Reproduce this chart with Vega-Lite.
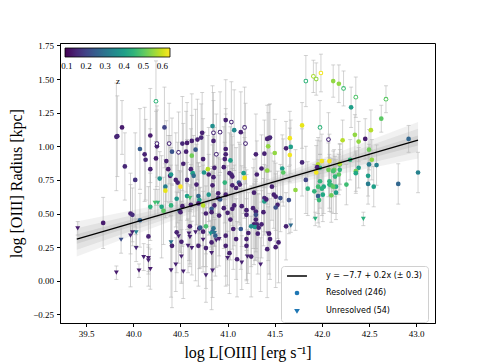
{
  "$schema": "https://vega.github.io/schema/vega-lite/v6.json",
  "width": 375,
  "height": 280,
  "autosize": {"type": "none"},
  "padding": {"left": 60, "top": 43, "right": 49, "bottom": 40},
  "background": "white",
  "config": {
    "view": {"stroke": "black", "strokeWidth": 1},
    "axis": {"grid": false, "domainColor": "black", "tickColor": "black", "tickSize": 3.5, "labelColor": "black", "labelFont": "Liberation Serif", "labelFontSize": 9, "titleFont": "Liberation Serif", "titleFontSize": 16, "titleFontWeight": "normal", "titleColor": "black", "labelOverlap": false, "labelFlush": false, "labelBound": false}
  },
  "datasets": {
    "band": [
      {"x": 39.4, "lo1": 0.18, "hi1": 0.44, "lo2": 0.23, "hi2": 0.39, "lo3": 0.275, "hi3": 0.345},
      {"x": 41.2, "lo1": 0.655, "hi1": 0.695, "lo2": 0.663, "hi2": 0.687, "lo3": 0.668, "hi3": 0.682},
      {"x": 43.02, "lo1": 0.91, "hi1": 1.18, "lo2": 0.96, "hi2": 1.13, "lo3": 1.005, "hi3": 1.08}
    ],
    "fit": [{"x": 39.4, "y": 0.31}, {"x": 43.02, "y": 1.045}],
    "pts": [
      {"x":39.41,"y":0.39,"e":0.05,"z":0.13,"s":"U"},
      {"x":39.68,"y":0.43,"e":0.19,"z":0.13,"s":"R"},
      {"x":39.82,"y":1.07,"e":0.4,"z":0.14,"s":"R"},
      {"x":39.83,"y":1.075,"e":0.3,"z":0.15,"s":"R"},
      {"x":39.88,"y":1.14,"e":0.2,"z":0.13,"s":"R"},
      {"x":39.91,"y":0.85,"e":0.25,"z":0.15,"s":"R"},
      {"x":40.02,"y":0.75,"e":0.35,"z":0.17,"s":"R"},
      {"x":39.97,"y":0.5,"e":0.3,"z":0.14,"s":"R"},
      {"x":39.99,"y":0.49,"e":0.2,"z":0.16,"s":"R"},
      {"x":40.07,"y":0.98,"e":0.3,"z":0.25,"s":"R"},
      {"x":40.07,"y":0.45,"e":0.2,"z":0.26,"s":"R"},
      {"x":40.03,"y":0.36,"e":0.1,"z":0.33,"s":"U"},
      {"x":39.99,"y":0.36,"e":0.1,"z":0.14,"s":"U"},
      {"x":39.97,"y":0.335,"e":0.38,"z":0.15,"s":"U"},
      {"x":39.87,"y":0.305,"e":0.1,"z":0.22,"s":"U"},
      {"x":39.82,"y":0.06,"e":0.05,"z":0.13,"s":"U"},
      {"x":40.06,"y":0.075,"e":0.05,"z":0.13,"s":"U"},
      {"x":40.03,"y":0.243,"e":0.1,"z":0.15,"s":"U"},
      {"x":40.11,"y":0.176,"e":0.1,"z":0.14,"s":"U"},
      {"x":40.16,"y":0.168,"e":0.1,"z":0.13,"s":"U"},
      {"x":40.16,"y":0.15,"e":0.1,"z":0.14,"s":"U"},
      {"x":40.18,"y":0.087,"e":0.15,"z":0.13,"s":"U"},
      {"x":40.16,"y":0.33,"e":0.37,"z":0.14,"s":"R"},
      {"x":40.12,"y":0.94,"e":0.35,"z":0.14,"s":"R"},
      {"x":40.13,"y":0.9,"e":0.3,"z":0.15,"s":"R"},
      {"x":40.18,"y":1.08,"e":0.35,"z":0.13,"s":"R"},
      {"x":40.24,"y":1.335,"e":0.3,"z":0.45,"s":"R","o":1},
      {"x":40.25,"y":1.02,"e":0.25,"z":0.15,"s":"R","o":1},
      {"x":40.25,"y":1.0,"e":0.3,"z":0.14,"s":"R"},
      {"x":40.24,"y":0.91,"e":0.35,"z":0.13,"s":"R"},
      {"x":40.18,"y":0.83,"e":0.3,"z":0.14,"s":"R"},
      {"x":40.33,"y":1.14,"e":0.3,"z":0.2,"s":"R"},
      {"x":40.38,"y":1.02,"e":0.3,"z":0.15,"s":"R","o":1},
      {"x":40.35,"y":0.89,"e":0.3,"z":0.14,"s":"R"},
      {"x":40.37,"y":0.83,"e":0.25,"z":0.13,"s":"R"},
      {"x":40.41,"y":0.96,"e":0.25,"z":0.23,"s":"R"},
      {"x":40.28,"y":0.76,"e":0.2,"z":0.37,"s":"R"},
      {"x":40.34,"y":0.7,"e":0.2,"z":0.32,"s":"R"},
      {"x":40.34,"y":0.67,"e":0.2,"z":0.62,"s":"R"},
      {"x":40.23,"y":0.58,"e":0.1,"z":0.48,"s":"U"},
      {"x":40.26,"y":0.58,"e":0.1,"z":0.46,"s":"U"},
      {"x":40.3,"y":0.55,"e":0.38,"z":0.42,"s":"R"},
      {"x":40.32,"y":0.52,"e":0.25,"z":0.5,"s":"R"},
      {"x":40.18,"y":0.55,"e":0.25,"z":0.44,"s":"R"},
      {"x":40.39,"y":0.78,"e":0.3,"z":0.14,"s":"R"},
      {"x":40.4,"y":0.56,"e":0.3,"z":0.45,"s":"R"},
      {"x":40.46,"y":0.61,"e":0.25,"z":0.38,"s":"R"},
      {"x":40.49,"y":0.52,"e":0.3,"z":0.27,"s":"R"},
      {"x":40.45,"y":0.75,"e":0.35,"z":0.14,"s":"R"},
      {"x":40.4,"y":0.79,"e":0.2,"z":0.38,"s":"R"},
      {"x":40.48,"y":0.955,"e":0.3,"z":0.15,"s":"R","o":1},
      {"x":40.52,"y":1.02,"e":0.35,"z":0.15,"s":"R"},
      {"x":40.57,"y":1.025,"e":0.3,"z":0.13,"s":"R"},
      {"x":40.56,"y":0.96,"e":0.3,"z":0.14,"s":"R"},
      {"x":40.5,"y":0.7,"e":0.25,"z":0.64,"s":"R"},
      {"x":40.47,"y":0.73,"e":0.3,"z":0.14,"s":"R"},
      {"x":40.53,"y":0.87,"e":0.3,"z":0.14,"s":"R"},
      {"x":40.57,"y":0.75,"e":0.3,"z":0.15,"s":"R"},
      {"x":40.6,"y":0.615,"e":0.1,"z":0.48,"s":"U"},
      {"x":40.57,"y":0.63,"e":0.25,"z":0.4,"s":"R"},
      {"x":40.62,"y":0.93,"e":0.3,"z":0.52,"s":"R"},
      {"x":40.61,"y":0.83,"e":0.3,"z":0.14,"s":"R"},
      {"x":40.63,"y":0.8,"e":0.25,"z":0.4,"s":"R"},
      {"x":40.64,"y":0.78,"e":0.3,"z":0.28,"s":"R"},
      {"x":40.62,"y":1.04,"e":0.35,"z":0.14,"s":"R"},
      {"x":40.66,"y":0.975,"e":0.3,"z":0.24,"s":"R"},
      {"x":40.67,"y":0.715,"e":0.3,"z":0.14,"s":"R"},
      {"x":40.69,"y":0.63,"e":0.25,"z":0.27,"s":"R"},
      {"x":40.7,"y":0.6,"e":0.25,"z":0.4,"s":"R"},
      {"x":40.74,"y":0.56,"e":0.3,"z":0.58,"s":"R"},
      {"x":40.74,"y":0.905,"e":0.3,"z":0.14,"s":"R"},
      {"x":40.68,"y":1.05,"e":0.3,"z":0.14,"s":"R"},
      {"x":40.73,"y":1.1,"e":0.3,"z":0.14,"s":"R"},
      {"x":40.72,"y":1.065,"e":0.25,"z":0.15,"s":"R"},
      {"x":40.79,"y":0.83,"e":0.25,"z":0.58,"s":"R"},
      {"x":40.75,"y":0.805,"e":0.3,"z":0.38,"s":"R"},
      {"x":40.85,"y":1.1,"e":0.3,"z":0.15,"s":"R","o":1},
      {"x":40.92,"y":1.105,"e":0.3,"z":0.15,"s":"R","o":1},
      {"x":40.84,"y":1.15,"e":0.3,"z":0.36,"s":"R"},
      {"x":40.85,"y":1.04,"e":0.3,"z":0.14,"s":"R"},
      {"x":40.88,"y":0.94,"e":0.3,"z":0.15,"s":"R","o":1},
      {"x":40.86,"y":0.84,"e":0.3,"z":0.14,"s":"R"},
      {"x":40.8,"y":0.79,"e":0.35,"z":0.14,"s":"R"},
      {"x":40.85,"y":0.77,"e":0.3,"z":0.14,"s":"R"},
      {"x":40.84,"y":0.71,"e":0.3,"z":0.14,"s":"R"},
      {"x":40.9,"y":0.65,"e":0.3,"z":0.14,"s":"R"},
      {"x":40.97,"y":0.73,"e":0.3,"z":0.45,"s":"R"},
      {"x":40.98,"y":1.195,"e":0.3,"z":0.14,"s":"R"},
      {"x":41.04,"y":1.18,"e":0.3,"z":0.15,"s":"R","o":1},
      {"x":41.07,"y":1.12,"e":0.3,"z":0.35,"s":"R"},
      {"x":41.14,"y":1.105,"e":0.3,"z":0.14,"s":"R"},
      {"x":41.18,"y":1.14,"e":0.3,"z":0.15,"s":"R","o":1},
      {"x":41.19,"y":1.02,"e":0.3,"z":0.15,"s":"R","o":1},
      {"x":40.98,"y":0.98,"e":0.3,"z":0.14,"s":"R"},
      {"x":40.98,"y":0.94,"e":0.3,"z":0.14,"s":"R"},
      {"x":40.97,"y":0.905,"e":0.3,"z":0.14,"s":"R"},
      {"x":41.03,"y":0.895,"e":0.25,"z":0.4,"s":"R"},
      {"x":40.96,"y":0.845,"e":0.3,"z":0.14,"s":"R"},
      {"x":41.02,"y":0.8,"e":0.3,"z":0.14,"s":"R"},
      {"x":41.04,"y":0.79,"e":0.3,"z":0.15,"s":"R"},
      {"x":41.05,"y":0.775,"e":0.3,"z":0.14,"s":"R"},
      {"x":41.17,"y":0.8,"e":0.3,"z":0.4,"s":"R"},
      {"x":41.18,"y":0.765,"e":0.3,"z":0.63,"s":"R"},
      {"x":41.12,"y":0.73,"e":0.3,"z":0.24,"s":"R"},
      {"x":41.05,"y":0.71,"e":0.3,"z":0.14,"s":"R"},
      {"x":41.13,"y":0.715,"e":0.3,"z":0.14,"s":"R"},
      {"x":41.09,"y":0.69,"e":0.3,"z":0.14,"s":"R"},
      {"x":41.3,"y":0.94,"e":0.3,"z":0.14,"s":"R"},
      {"x":40.8,"y":0.64,"e":0.3,"z":0.38,"s":"R"},
      {"x":40.98,"y":0.64,"e":0.3,"z":0.14,"s":"R"},
      {"x":40.9,"y":0.615,"e":0.3,"z":0.14,"s":"R"},
      {"x":40.92,"y":0.605,"e":0.3,"z":0.24,"s":"R"},
      {"x":40.86,"y":0.56,"e":0.3,"z":0.14,"s":"R"},
      {"x":40.83,"y":0.535,"e":0.3,"z":0.25,"s":"R"},
      {"x":40.69,"y":0.575,"e":0.3,"z":0.14,"s":"R"},
      {"x":40.61,"y":0.565,"e":0.3,"z":0.14,"s":"R"},
      {"x":40.52,"y":0.555,"e":0.3,"z":0.14,"s":"R"},
      {"x":40.5,"y":0.51,"e":0.3,"z":0.14,"s":"R"},
      {"x":41.07,"y":0.56,"e":0.3,"z":0.14,"s":"R"},
      {"x":41.05,"y":0.535,"e":0.3,"z":0.14,"s":"R"},
      {"x":40.96,"y":0.54,"e":0.3,"z":0.14,"s":"R"},
      {"x":41.15,"y":0.555,"e":0.3,"z":0.14,"s":"R"},
      {"x":41.2,"y":0.525,"e":0.3,"z":0.14,"s":"R"},
      {"x":41.2,"y":0.49,"e":0.3,"z":0.14,"s":"R"},
      {"x":41.27,"y":0.54,"e":0.3,"z":0.14,"s":"R"},
      {"x":41.3,"y":0.515,"e":0.3,"z":0.14,"s":"R"},
      {"x":41.3,"y":0.455,"e":0.3,"z":0.14,"s":"R"},
      {"x":41.28,"y":0.42,"e":0.3,"z":0.14,"s":"R"},
      {"x":41.25,"y":0.405,"e":0.3,"z":0.35,"s":"R"},
      {"x":41.32,"y":0.35,"e":0.3,"z":0.14,"s":"R"},
      {"x":40.77,"y":0.5,"e":0.3,"z":0.14,"s":"R"},
      {"x":40.83,"y":0.51,"e":0.3,"z":0.14,"s":"R"},
      {"x":40.91,"y":0.485,"e":0.3,"z":0.14,"s":"R"},
      {"x":41.0,"y":0.505,"e":0.35,"z":0.14,"s":"R"},
      {"x":41.03,"y":0.455,"e":0.3,"z":0.14,"s":"R"},
      {"x":40.77,"y":0.405,"e":0.3,"z":0.48,"s":"R"},
      {"x":40.7,"y":0.39,"e":0.3,"z":0.14,"s":"R"},
      {"x":40.71,"y":0.395,"e":0.3,"z":0.25,"s":"R"},
      {"x":40.85,"y":0.39,"e":0.3,"z":0.3,"s":"R"},
      {"x":40.84,"y":0.365,"e":0.3,"z":0.27,"s":"R"},
      {"x":40.86,"y":0.355,"e":0.1,"z":0.3,"s":"U"},
      {"x":40.82,"y":0.35,"e":0.1,"z":0.38,"s":"U"},
      {"x":40.87,"y":0.335,"e":0.3,"z":0.25,"s":"R"},
      {"x":40.66,"y":0.36,"e":0.36,"z":0.14,"s":"U"},
      {"x":40.59,"y":0.35,"e":0.2,"z":0.14,"s":"U"},
      {"x":40.46,"y":0.36,"e":0.3,"z":0.14,"s":"R"},
      {"x":40.48,"y":0.33,"e":0.2,"z":0.14,"s":"U"},
      {"x":40.6,"y":0.405,"e":0.3,"z":0.14,"s":"R"},
      {"x":40.74,"y":0.305,"e":0.2,"z":0.14,"s":"U"},
      {"x":40.83,"y":0.285,"e":0.5,"z":0.14,"s":"R"},
      {"x":40.91,"y":0.31,"e":0.2,"z":0.14,"s":"U"},
      {"x":40.98,"y":0.335,"e":0.3,"z":0.14,"s":"R"},
      {"x":41.06,"y":0.385,"e":0.3,"z":0.14,"s":"R"},
      {"x":41.14,"y":0.385,"e":0.3,"z":0.24,"s":"R"},
      {"x":41.09,"y":0.31,"e":0.3,"z":0.14,"s":"R"},
      {"x":41.2,"y":0.31,"e":0.3,"z":0.14,"s":"R"},
      {"x":41.2,"y":0.26,"e":0.26,"z":0.14,"s":"R"},
      {"x":41.15,"y":0.135,"e":0.2,"z":0.14,"s":"U"},
      {"x":41.25,"y":0.18,"e":0.3,"z":0.14,"s":"R"},
      {"x":41.1,"y":0.16,"e":0.28,"z":0.14,"s":"R"},
      {"x":41.02,"y":0.205,"e":0.3,"z":0.14,"s":"R"},
      {"x":41.0,"y":0.168,"e":0.2,"z":0.14,"s":"U"},
      {"x":40.98,"y":0.26,"e":0.3,"z":0.14,"s":"R"},
      {"x":40.83,"y":0.205,"e":0.2,"z":0.14,"s":"U"},
      {"x":40.84,"y":0.076,"e":0.2,"z":0.14,"s":"U"},
      {"x":40.77,"y":0.04,"e":0.2,"z":0.14,"s":"U"},
      {"x":40.77,"y":0.243,"e":0.3,"z":0.14,"s":"R"},
      {"x":40.69,"y":0.26,"e":0.3,"z":0.14,"s":"R"},
      {"x":40.58,"y":0.26,"e":0.2,"z":0.14,"s":"U"},
      {"x":40.62,"y":0.243,"e":0.2,"z":0.14,"s":"U"},
      {"x":40.51,"y":0.29,"e":0.3,"z":0.14,"s":"R"},
      {"x":40.4,"y":0.285,"e":0.2,"z":0.3,"s":"U"},
      {"x":40.41,"y":0.26,"e":0.46,"z":0.14,"s":"R"},
      {"x":40.45,"y":0.12,"e":0.2,"z":0.14,"s":"U"},
      {"x":40.53,"y":0.068,"e":0.2,"z":0.14,"s":"U"},
      {"x":40.4,"y":0.078,"e":0.2,"z":0.14,"s":"U"},
      {"x":40.51,"y":0.18,"e":0.2,"z":0.14,"s":"U"},
      {"x":40.6,"y":0.325,"e":0.2,"z":0.14,"s":"U"},
      {"x":40.74,"y":0.365,"e":0.3,"z":0.14,"s":"R"},
      {"x":40.88,"y":0.3,"e":0.2,"z":0.14,"s":"U"},
      {"x":41.21,"y":0.18,"e":0.2,"z":0.14,"s":"U"},
      {"x":41.22,"y":0.355,"e":0.3,"z":0.14,"s":"R"},
      {"x":41.35,"y":0.12,"e":0.2,"z":0.14,"s":"U"},
      {"x":41.42,"y":0.235,"e":0.36,"z":0.14,"s":"R"},
      {"x":41.51,"y":0.25,"e":0.3,"z":0.14,"s":"R"},
      {"x":41.54,"y":0.285,"e":0.3,"z":0.14,"s":"R"},
      {"x":41.45,"y":0.31,"e":0.3,"z":0.14,"s":"R"},
      {"x":41.44,"y":0.35,"e":0.3,"z":0.14,"s":"R"},
      {"x":41.83,"y":1.485,"e":0.19,"z":0.45,"s":"R","o":1},
      {"x":41.91,"y":1.52,"e":0.12,"z":0.57,"s":"R","o":1},
      {"x":41.94,"y":1.5,"e":0.12,"z":0.55,"s":"R","o":1},
      {"x":41.99,"y":1.545,"e":0.14,"z":0.63,"s":"R","o":1},
      {"x":42.12,"y":1.485,"e":0.12,"z":0.55,"s":"R"},
      {"x":42.18,"y":1.465,"e":0.14,"z":0.55,"s":"R"},
      {"x":42.23,"y":1.43,"e":0.13,"z":0.47,"s":"R","o":1},
      {"x":42.36,"y":1.365,"e":0.15,"z":0.49,"s":"R","o":1},
      {"x":42.68,"y":1.35,"e":0.1,"z":0.5,"s":"R","o":1},
      {"x":42.31,"y":1.29,"e":0.15,"z":0.4,"s":"R"},
      {"x":42.63,"y":1.205,"e":0.1,"z":0.5,"s":"R"},
      {"x":41.79,"y":1.155,"e":0.17,"z":0.62,"s":"R"},
      {"x":41.98,"y":1.14,"e":0.2,"z":0.45,"s":"R","o":1},
      {"x":42.07,"y":1.05,"e":0.2,"z":0.15,"s":"R","o":1},
      {"x":42.22,"y":1.045,"e":0.15,"z":0.58,"s":"R"},
      {"x":42.35,"y":1.085,"e":0.15,"z":0.55,"s":"R"},
      {"x":42.39,"y":1.035,"e":0.15,"z":0.55,"s":"R"},
      {"x":42.46,"y":1.055,"e":0.15,"z":0.13,"s":"R"},
      {"x":42.52,"y":1.12,"e":0.15,"z":0.58,"s":"R"},
      {"x":42.5,"y":0.975,"e":0.15,"z":0.52,"s":"R"},
      {"x":42.53,"y":0.9,"e":0.15,"z":0.55,"s":"R"},
      {"x":42.92,"y":1.055,"e":0.1,"z":0.27,"s":"R"},
      {"x":43.02,"y":0.805,"e":0.15,"z":0.33,"s":"R"},
      {"x":42.81,"y":0.72,"e":0.15,"z":0.27,"s":"R"},
      {"x":42.5,"y":0.865,"e":0.15,"z":0.32,"s":"R"},
      {"x":42.58,"y":0.86,"e":0.15,"z":0.33,"s":"R"},
      {"x":42.49,"y":0.78,"e":0.15,"z":0.4,"s":"R"},
      {"x":42.49,"y":0.72,"e":0.15,"z":0.32,"s":"R"},
      {"x":42.55,"y":0.7,"e":0.15,"z":0.4,"s":"R"},
      {"x":42.39,"y":0.84,"e":0.15,"z":0.4,"s":"R"},
      {"x":42.36,"y":0.815,"e":0.15,"z":0.52,"s":"R"},
      {"x":42.36,"y":0.8,"e":0.15,"z":0.42,"s":"R"},
      {"x":42.3,"y":0.9,"e":0.15,"z":0.45,"s":"R"},
      {"x":42.26,"y":0.715,"e":0.15,"z":0.47,"s":"R"},
      {"x":42.44,"y":0.46,"e":0.05,"z":0.44,"s":"U"},
      {"x":42.19,"y":0.865,"e":0.15,"z":0.47,"s":"R"},
      {"x":42.19,"y":0.825,"e":0.15,"z":0.45,"s":"R"},
      {"x":42.18,"y":0.79,"e":0.15,"z":0.5,"s":"R"},
      {"x":42.13,"y":0.825,"e":0.15,"z":0.52,"s":"R"},
      {"x":42.12,"y":0.815,"e":0.15,"z":0.48,"s":"R"},
      {"x":42.14,"y":0.775,"e":0.15,"z":0.45,"s":"R"},
      {"x":42.19,"y":0.87,"e":0.15,"z":0.58,"s":"R"},
      {"x":42.08,"y":0.89,"e":0.2,"z":0.63,"s":"R"},
      {"x":42.0,"y":0.89,"e":0.2,"z":0.63,"s":"R"},
      {"x":41.96,"y":0.865,"e":0.2,"z":0.58,"s":"R"},
      {"x":41.98,"y":0.84,"e":0.2,"z":0.44,"s":"R"},
      {"x":41.94,"y":0.805,"e":0.2,"z":0.63,"s":"R"},
      {"x":41.95,"y":0.845,"e":0.2,"z":0.14,"s":"R"},
      {"x":42.07,"y":0.825,"e":0.2,"z":0.52,"s":"R"},
      {"x":42.08,"y":0.74,"e":0.2,"z":0.45,"s":"R"},
      {"x":42.08,"y":0.715,"e":0.2,"z":0.44,"s":"R"},
      {"x":42.1,"y":0.71,"e":0.2,"z":0.47,"s":"R"},
      {"x":42.15,"y":0.7,"e":0.2,"z":0.42,"s":"R"},
      {"x":42.12,"y":0.7,"e":0.2,"z":0.5,"s":"R"},
      {"x":41.98,"y":0.74,"e":0.2,"z":0.45,"s":"R"},
      {"x":41.96,"y":0.7,"e":0.2,"z":0.47,"s":"R"},
      {"x":42.02,"y":0.7,"e":0.2,"z":0.42,"s":"R"},
      {"x":42.0,"y":0.685,"e":0.2,"z":0.44,"s":"R"},
      {"x":41.92,"y":0.665,"e":0.2,"z":0.45,"s":"R"},
      {"x":42.01,"y":0.64,"e":0.2,"z":0.42,"s":"R"},
      {"x":41.96,"y":0.63,"e":0.2,"z":0.25,"s":"R"},
      {"x":41.97,"y":0.6,"e":0.2,"z":0.46,"s":"R"},
      {"x":42.1,"y":0.635,"e":0.2,"z":0.52,"s":"R"},
      {"x":42.15,"y":0.655,"e":0.2,"z":0.4,"s":"R"},
      {"x":41.85,"y":0.685,"e":0.2,"z":0.44,"s":"R"},
      {"x":41.93,"y":0.46,"e":0.05,"z":0.44,"s":"U"},
      {"x":41.83,"y":0.75,"e":0.25,"z":0.2,"s":"R"},
      {"x":41.79,"y":0.88,"e":0.25,"z":0.15,"s":"R"},
      {"x":41.66,"y":1.06,"e":0.2,"z":0.63,"s":"R"},
      {"x":41.67,"y":0.995,"e":0.2,"z":0.4,"s":"R"},
      {"x":41.66,"y":0.935,"e":0.2,"z":0.63,"s":"R"},
      {"x":41.62,"y":0.985,"e":0.2,"z":0.14,"s":"R"},
      {"x":41.5,"y":0.95,"e":0.25,"z":0.55,"s":"R"},
      {"x":41.58,"y":0.835,"e":0.25,"z":0.4,"s":"R"},
      {"x":41.59,"y":0.805,"e":0.25,"z":0.5,"s":"R"},
      {"x":41.42,"y":1.055,"e":0.25,"z":0.14,"s":"R"},
      {"x":41.44,"y":1.06,"e":0.25,"z":0.14,"s":"R"},
      {"x":41.45,"y":1.065,"e":0.25,"z":0.15,"s":"R"},
      {"x":41.43,"y":1.0,"e":0.25,"z":0.55,"s":"R"},
      {"x":41.39,"y":0.945,"e":0.25,"z":0.14,"s":"R"},
      {"x":41.42,"y":0.82,"e":0.25,"z":0.55,"s":"R"},
      {"x":41.36,"y":0.835,"e":0.25,"z":0.14,"s":"R"},
      {"x":41.31,"y":0.79,"e":0.25,"z":0.14,"s":"R"},
      {"x":41.28,"y":0.655,"e":0.25,"z":0.14,"s":"R"},
      {"x":41.47,"y":0.7,"e":0.25,"z":0.14,"s":"R"},
      {"x":41.49,"y":0.64,"e":0.25,"z":0.14,"s":"R"},
      {"x":41.51,"y":0.625,"e":0.25,"z":0.14,"s":"R"},
      {"x":41.39,"y":0.615,"e":0.25,"z":0.15,"s":"R"},
      {"x":41.39,"y":0.59,"e":0.25,"z":0.4,"s":"R"},
      {"x":41.41,"y":0.605,"e":0.25,"z":0.14,"s":"R"},
      {"x":41.56,"y":0.615,"e":0.25,"z":0.22,"s":"R"},
      {"x":41.53,"y":0.565,"e":0.25,"z":0.14,"s":"R"},
      {"x":41.51,"y":0.545,"e":0.25,"z":0.22,"s":"R"},
      {"x":41.65,"y":0.6,"e":0.25,"z":0.22,"s":"R"},
      {"x":41.72,"y":0.675,"e":0.3,"z":0.55,"s":"R"},
      {"x":41.38,"y":0.51,"e":0.25,"z":0.14,"s":"R"},
      {"x":41.3,"y":0.49,"e":0.25,"z":0.22,"s":"R"},
      {"x":41.62,"y":0.405,"e":0.25,"z":0.14,"s":"R"},
      {"x":41.67,"y":0.41,"e":0.05,"z":0.28,"s":"U"},
      {"x":41.31,"y":0.42,"e":0.25,"z":0.15,"s":"R"},
      {"x":41.36,"y":0.42,"e":0.25,"z":0.14,"s":"R"},
      {"x":41.29,"y":0.4,"e":0.25,"z":0.38,"s":"R"},
      {"x":41.33,"y":0.395,"e":0.25,"z":0.15,"s":"R"},
      {"x":41.43,"y":0.35,"e":0.2,"z":0.14,"s":"U"}
    ]
  },
  "layer": [
    {
      "data": {"name": "band"},
      "mark": {"type": "area", "color": "#888888", "opacity": 0.12},
      "encoding": {
        "x": {"field": "x", "type": "quantitative", "title": "log  L[OIII] [erg s⁻¹]", "scale": {"domain": [39.222, 43.2], "nice": false, "zero": false}, "axis": {"values": [39.5, 40.0, 40.5, 41.0, 41.5, 42.0, 42.5, 43.0], "tickCount": 12, "format": ".1f", "titlePadding": 6, "labelPadding": 3, "labelOverlap": false}},
        "y": {"field": "lo1", "type": "quantitative", "title": "log [OIII] Radius [kpc]", "scale": {"domain": [-0.314, 1.768], "nice": false, "zero": false}, "axis": {"values": [-0.25, 0, 0.25, 0.5, 0.75, 1.0, 1.25, 1.5, 1.75], "tickCount": 12, "format": ".2f", "titlePadding": 8, "labelPadding": 3, "labelOverlap": false}},
        "y2": {"field": "hi1"}
      }
    },
    {
      "data": {"name": "band"},
      "mark": {"type": "area", "color": "#888888", "opacity": 0.14},
      "encoding": {"x": {"field": "x", "type": "quantitative", "title": "log  L[OIII] [erg s⁻¹]"}, "y": {"field": "lo2", "type": "quantitative", "title": "log [OIII] Radius [kpc]"}, "y2": {"field": "hi2"}}
    },
    {
      "data": {"name": "band"},
      "mark": {"type": "area", "color": "#888888", "opacity": 0.18},
      "encoding": {"x": {"field": "x", "type": "quantitative", "title": "log  L[OIII] [erg s⁻¹]"}, "y": {"field": "lo3", "type": "quantitative", "title": "log [OIII] Radius [kpc]"}, "y2": {"field": "hi3"}}
    },
    {
      "data": {"name": "pts"},
      "mark": {"type": "errorbar", "color": "#b5b5b5", "opacity": 0.6, "thickness": 1, "ticks": {"size": 4, "thickness": 1}},
      "encoding": {
        "x": {"field": "x", "type": "quantitative", "title": "log  L[OIII] [erg s⁻¹]"},
        "y": {"field": "y", "type": "quantitative", "title": "log [OIII] Radius [kpc]"},
        "yError": {"field": "e"}
      }
    },
    {
      "data": {"name": "pts"},
      "transform": [{"filter": "datum.s == 'R'"}],
      "mark": {"type": "point", "filled": true, "opacity": 1, "size": 22, "shape": "circle"},
      "encoding": {
        "x": {"field": "x", "type": "quantitative", "title": "log  L[OIII] [erg s⁻¹]"},
        "y": {"field": "y", "type": "quantitative", "title": "log [OIII] Radius [kpc]"},
        "color": {
          "field": "z", "type": "quantitative",
          "scale": {"scheme": "viridis", "domain": [0.09, 0.64], "nice": false, "zero": false},
          "legend": {
            "type": "gradient",
            "orient": "none", "legendX": 5, "legendY": 5, "direction": "horizontal",
            "gradientLength": 105, "gradientThickness": 9, "gradientStrokeColor": "black", "gradientStrokeWidth": 0.8,
            "values": [0.1, 0.2, 0.3, 0.4, 0.5, 0.6], "format": ".1f",
            "title": "z", "titleOrient": "bottom", "titleAnchor": "middle", "titlePadding": 6,
            "labelFont": "Liberation Serif", "labelFontSize": 9, "labelColor": "black", "labelOffset": 5,
            "titleFont": "Liberation Serif", "titleFontSize": 9, "titleFontWeight": "normal", "titleColor": "black",
            "padding": 0
          }
        }
      }
    },
    {
      "data": {"name": "pts"},
      "transform": [{"filter": "datum.s == 'U'"}],
      "mark": {"type": "point", "filled": true, "opacity": 1, "size": 24, "shape": "triangle-down"},
      "encoding": {
        "x": {"field": "x", "type": "quantitative", "title": "log  L[OIII] [erg s⁻¹]"},
        "y": {"field": "y", "type": "quantitative", "title": "log [OIII] Radius [kpc]"},
        "color": {
          "field": "z", "type": "quantitative",
          "legend": {
            "type": "gradient",
            "orient": "none", "legendX": 5, "legendY": 5, "direction": "horizontal",
            "gradientLength": 105, "gradientThickness": 9, "gradientStrokeColor": "black", "gradientStrokeWidth": 0.8,
            "values": [0.1, 0.2, 0.3, 0.4, 0.5, 0.6], "format": ".1f",
            "title": "z", "titleOrient": "bottom", "titleAnchor": "middle", "titlePadding": 6,
            "labelFont": "Liberation Serif", "labelFontSize": 9, "labelColor": "black", "labelOffset": 5,
            "titleFont": "Liberation Serif", "titleFontSize": 9, "titleFontWeight": "normal", "titleColor": "black",
            "padding": 0
          }
        }
      }
    },
    {
      "data": {"name": "pts"},
      "transform": [{"filter": "datum.o == 1"}],
      "mark": {"type": "point", "filled": true, "color": "white", "opacity": 1, "size": 7, "shape": "circle"},
      "encoding": {
        "x": {"field": "x", "type": "quantitative", "title": "log  L[OIII] [erg s⁻¹]"},
        "y": {"field": "y", "type": "quantitative", "title": "log [OIII] Radius [kpc]"}
      }
    },
    {
      "data": {"name": "fit"},
      "mark": {"type": "line", "color": "black", "strokeWidth": 1.3},
      "encoding": {"x": {"field": "x", "type": "quantitative", "title": "log  L[OIII] [erg s⁻¹]"}, "y": {"field": "y", "type": "quantitative", "title": "log [OIII] Radius [kpc]"}}
    },
    {
      "data": {"name": "pts"},
      "transform": [{"filter": "datum.x > 100"}],
      "mark": {"type": "point", "filled": true, "color": "#1f77b4", "opacity": 1, "size": 10, "strokeWidth": 1.5},
      "encoding": {
        "x": {"field": "x", "type": "quantitative", "title": "log  L[OIII] [erg s⁻¹]"},
        "y": {"field": "y", "type": "quantitative", "title": "log [OIII] Radius [kpc]"},
        "shape": {
          "field": "s", "type": "nominal",
          "scale": {"domain": ["F", "R", "U"], "range": ["M-6.3,0H6.3", "circle", "triangle-down"]},
          "legend": {
            "orient": "none", "legendX": 221, "legendY": 223, "title": null,
            "labelExpr": "datum.value == 'F' ? 'y = −7.7 + 0.2x (± 0.3)' : datum.value == 'R' ? 'Resolved (246)' : 'Unresolved (54)'",
            "symbolSize": 10, "symbolOffset": 6, "labelOffset": 25, "rowPadding": 8, "symbolOpacity": 1,
            "padding": 6, "strokeColor": "#d0d0d0", "fillColor": "white", "cornerRadius": 3,
            "labelFont": "DejaVu Sans", "labelFontSize": 8, "labelColor": "black"
          }
        },
        "stroke": {
          "field": "s", "type": "nominal",
          "scale": {"domain": ["F", "R", "U"], "range": ["black", "#1f77b4", "#1f77b4"]},
          "legend": {
            "orient": "none", "legendX": 221, "legendY": 223, "title": null,
            "labelExpr": "datum.value == 'F' ? 'y = −7.7 + 0.2x (± 0.3)' : datum.value == 'R' ? 'Resolved (246)' : 'Unresolved (54)'",
            "symbolSize": 10, "symbolOffset": 6, "labelOffset": 25, "rowPadding": 8, "symbolOpacity": 1,
            "padding": 6, "strokeColor": "#d0d0d0", "fillColor": "white", "cornerRadius": 3,
            "labelFont": "DejaVu Sans", "labelFontSize": 8, "labelColor": "black"
          }
        }
      }
    }
  ]
}
